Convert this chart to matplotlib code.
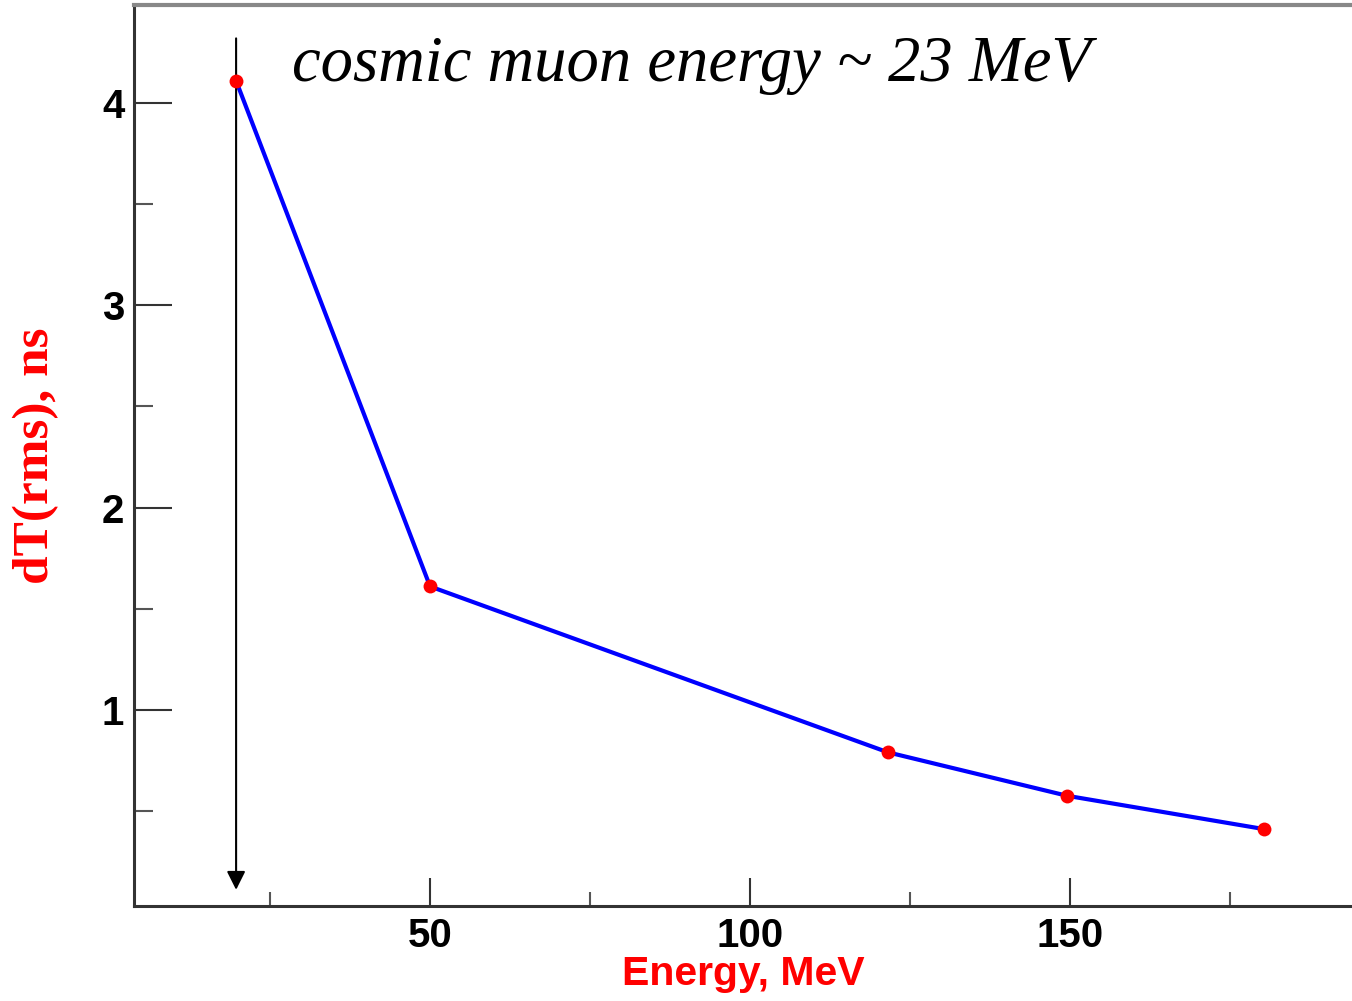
import matplotlib.pyplot as plt
from matplotlib.ticker import MultipleLocator

# data
energy = [19.7, 50, 121.5, 149.5, 180.3]
dt_rms = [4.11, 1.61, 0.79, 0.575, 0.41]
muon_energy = 19.7   # where the arrow was drawn
note = "cosmic muon energy ~ 23 MeV"

fig = plt.figure(figsize=(13.52, 10.01), dpi=100)
ax = fig.add_axes([0.0991, 0.0949, 0.9009, 0.9001])

ax.plot(energy, dt_rms, color='#0000ff', lw=3, zorder=3)
ax.plot(energy, dt_rms, 'o', color='#ff0000', ms=10, mec='none', zorder=4)

# arrow for the cosmic muon energy
ax.annotate('', xy=(muon_energy, 0.11), xytext=(muon_energy, 4.32),
            arrowprops=dict(arrowstyle='-|>', color='black', lw=1.5,
                            mutation_scale=28, shrinkA=0, shrinkB=0))
ax.text(0.13, 0.933, note, transform=ax.transAxes, fontsize=46.5,
        family='Liberation Serif', style='italic', va='center', ha='left')

ax.set_xlim(3.75, 194)
ax.set_ylim(0.03, 4.485)

ax.xaxis.set_major_locator(MultipleLocator(50))
ax.xaxis.set_minor_locator(MultipleLocator(25))
ax.yaxis.set_major_locator(MultipleLocator(1))
ax.yaxis.set_minor_locator(MultipleLocator(0.5))

ax.tick_params(axis='x', which='major', direction='in', length=20, width=1.5,
               color='#333333', labelsize=29, pad=8)
ax.tick_params(axis='x', which='minor', direction='in', length=10, width=1.5,
               color='#555555')
ax.tick_params(axis='y', which='major', direction='in', length=27, width=1.5,
               color='#333333', labelsize=29, pad=7)
ax.tick_params(axis='y', which='minor', direction='in', length=14, width=1.5,
               color='#555555')
for lab in ax.get_xticklabels() + ax.get_yticklabels():
    lab.set_family('Liberation Sans')
    lab.set_fontweight('bold')

ax.spines['right'].set_visible(False)
for s in ['left', 'bottom']:
    ax.spines[s].set_linewidth(2.2)
    ax.spines[s].set_color('#333333')
ax.spines['top'].set_linewidth(3)
ax.spines['top'].set_color('#888888')

ax.set_xlabel('Energy, MeV', color='#ff0000', fontsize=29.5, fontweight='bold',
              family='Liberation Sans', labelpad=0)
ax.set_ylabel('dT(rms), ns', color='#ff0000', fontsize=37, fontweight='bold',
              family='Liberation Serif', labelpad=31)

fig.savefig('out.png', dpi=100)
